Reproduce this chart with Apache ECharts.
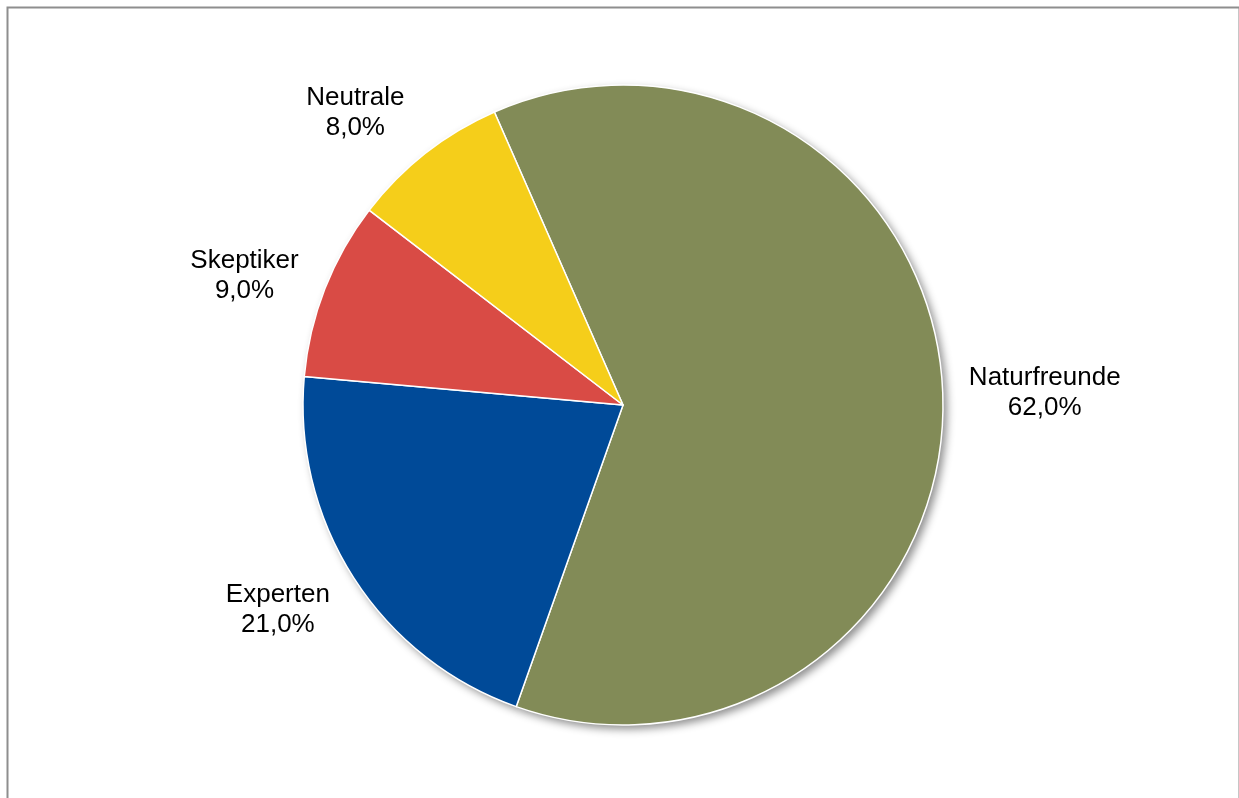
<!DOCTYPE html>
<html>
<head>
<meta charset="utf-8">
<script src="https://cdn.jsdelivr.net/npm/echarts@6/dist/echarts.min.js"></script>
<style>
  html, body { margin: 0; padding: 0; background: #fff; }
  #chart { width: 1239px; height: 798px; }
</style>
</head>
<body>
<div id="chart"></div>
<script>
// Segment shares in percent
const categories = ['Naturfreunde', 'Experten', 'Skeptiker', 'Neutrale'];
const shares = [62.0, 21.0, 9.0, 8.0];
const colors = ['#828B57', '#004A98', '#D94B45', '#F5CE1A'];

const center = [623, 405];
const radius = 320;
const startAngle = 113.7;
// small per-label nudges from the radial anchor point
const labelNudge = [[19, 3], [-6, -13], [-3, 17], [-19, 25]];

const data = categories.map((name, i) => ({ name, value: shares[i] }));
const fmt = v => v.toFixed(1).replace('.', ',') + '%';

const chart = echarts.init(document.getElementById('chart'), null, { renderer: 'canvas' });
chart.setOption({
  backgroundColor: '#ffffff',
  animation: false,
  graphic: [{
    type: 'rect',
    left: 5, top: 5,
    shape: { width: 1232, height: 830 },
    style: { fill: 'none', stroke: '#8e8e8e', lineWidth: 2 },
    silent: true
  }],
  series: [
    // drop shadow beneath the pie
    {
      type: 'pie',
      center, radius,
      startAngle,
      clockwise: true,
      silent: true,
      z: 1,
      label: { show: false },
      labelLine: { show: false },
      itemStyle: {
        color: '#ffffff',
        shadowColor: 'rgba(0,0,0,0.45)',
        shadowBlur: 8,
        shadowOffsetX: 4,
        shadowOffsetY: 4
      },
      data
    },
    // the pie itself
    {
      type: 'pie',
      center, radius,
      startAngle,
      clockwise: true,
      z: 2,
      label: { show: false },
      labelLine: { show: false },
      itemStyle: {
        borderColor: '#ffffff',
        borderWidth: 1.5,
        color: p => colors[p.dataIndex]
      },
      data
    },
    // category labels placed radially outside each slice
    {
      type: 'pie',
      center,
      radius: [0, 800],
      startAngle,
      clockwise: true,
      silent: true,
      z: 3,
      itemStyle: { color: 'rgba(0,0,0,0)' },
      labelLine: { show: false },
      label: {
        show: true,
        position: 'inside',
        formatter: p => p.name + '\n' + fmt(p.value),
        fontFamily: 'Liberation Sans, Arial, sans-serif',
        fontSize: 26,
        lineHeight: 30,
        color: '#000000',
        align: 'center'
      },
      data: data.map((d, i) => Object.assign({}, d, { label: { offset: labelNudge[i] } }))
    }
  ]
});
</script>
</body>
</html>
